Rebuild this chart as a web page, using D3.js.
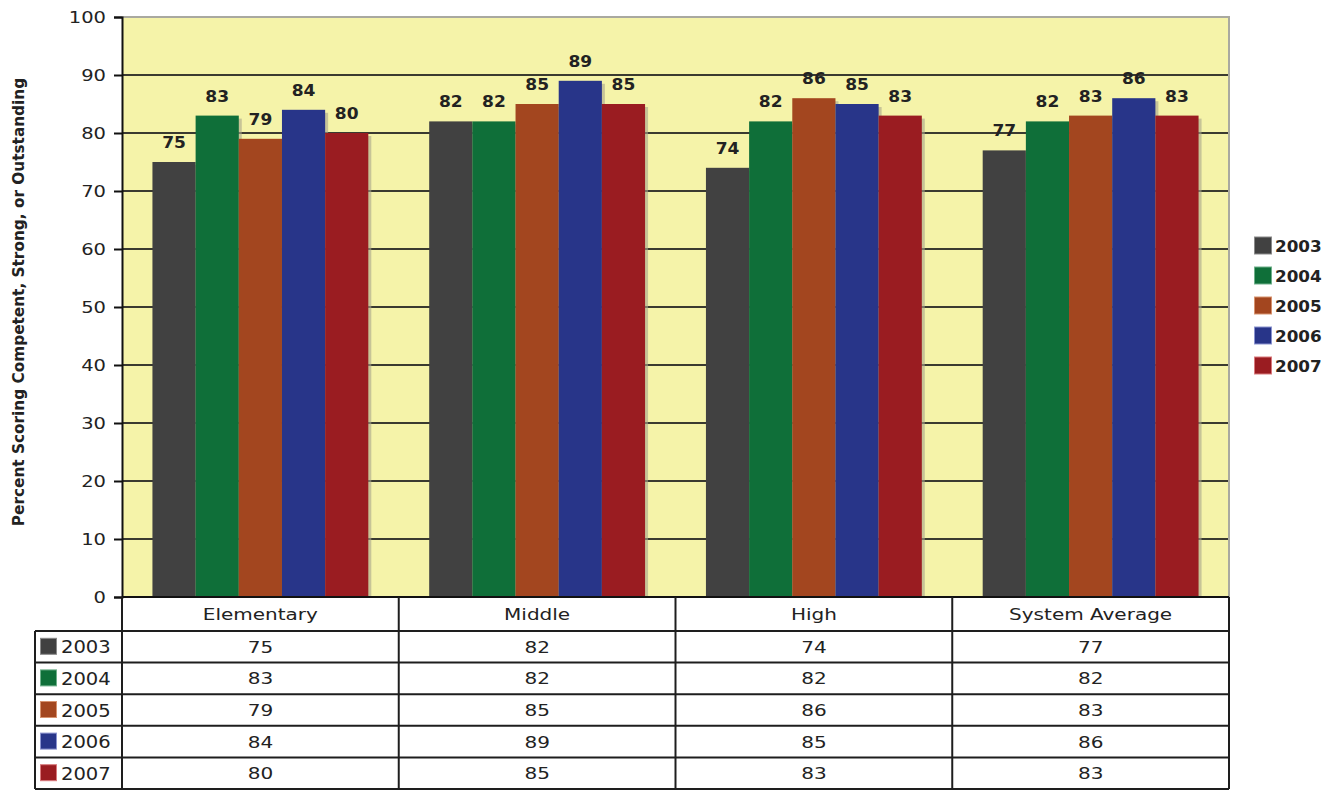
<!DOCTYPE html>
<html>
<head>
<meta charset="utf-8">
<script src="https://cdn.jsdelivr.net/npm/d3@7"></script>
<style>
  html, body { margin: 0; padding: 0; background: #fff; }
  svg { display: block; }
  text { font-family: "DejaVu Sans", Verdana, sans-serif; fill: #222; }
</style>
</head>
<body>
<svg id="chart" width="1331" height="791"></svg>
<script>
// School levels and survey years
const categories = ["Elementary", "Middle", "High", "System Average"];
const years = ["2003", "2004", "2005", "2006", "2007"];

// Percent scoring competent, strong, or outstanding, per year
const values2003 = [75, 82, 74, 77];
const values2004 = [83, 82, 82, 82];
const values2005 = [79, 85, 86, 83];
const values2006 = [84, 89, 85, 86];
const values2007 = [80, 85, 83, 83];

const yTicks = [0, 10, 20, 30, 40, 50, 60, 70, 80, 90, 100];
const yTitle = "Percent Scoring Competent, Strong, or Outstanding";

const seriesValues = [values2003, values2004, values2005, values2006, values2007];
const colors = ["#414141", "#0f6f39", "#a3461f", "#283589", "#9a1c21"];
const swatchStroke = ["#8a8a8a", "#6fb08a", "#d7936f", "#8a93cf", "#d97a7d"];

const svg = d3.select("#chart");

const plot = { left: 122, right: 1229, top: 17, bottom: 597 };
const table = { left: 35, headerBottom: 631, bottom: 789 };

const x0 = d3.scaleBand()
  .domain(categories)
  .range([plot.left, plot.right])
  .paddingInner(0.22)
  .paddingOuter(0.11);

const x1 = d3.scaleBand()
  .domain(years)
  .range([0, x0.bandwidth()]);

const y = d3.scaleLinear().domain([0, 100]).range([plot.bottom, plot.top]);

const color = d3.scaleOrdinal().domain(years).range(colors);

// Draws text widened horizontally, like the original export
function wideText(sel, x, yPos, str, opts) {
  const sx = opts.sx || 1;
  return sel.append("text")
    .attr("transform", `translate(${x},${yPos}) scale(${sx},1)`)
    .attr("text-anchor", opts.anchor || "middle")
    .attr("font-size", opts.size)
    .attr("font-weight", opts.weight || "normal")
    .text(str);
}

// Plot background
svg.append("rect")
  .attr("x", plot.left).attr("y", plot.top)
  .attr("width", plot.right - plot.left).attr("height", plot.bottom - plot.top)
  .attr("fill", "#f5f3a9");

// Gridlines
svg.append("g")
  .selectAll("line")
  .data(yTicks.filter(t => t > 0 && t < 100))
  .join("line")
  .attr("x1", plot.left).attr("x2", plot.right)
  .attr("y1", d => y(d)).attr("y2", d => y(d))
  .attr("stroke", "#3a3a30").attr("stroke-width", 2);

// Top and right frame
svg.append("path")
  .attr("d", `M${plot.left},${y(100)}H${plot.right}V${plot.bottom}`)
  .attr("fill", "none").attr("stroke", "#a9a9a0").attr("stroke-width", 2);

// Bars
const rows = years.map((yr, i) => categories.map((c, j) => ({ year: yr, cat: c, value: seriesValues[i][j] })));
const barData = rows.flat();

const groups = svg.append("g");
// shadows
groups.selectAll("rect.shadow")
  .data(barData)
  .join("rect")
  .attr("class", "shadow")
  .attr("x", d => x0(d.cat) + x1(d.year) + 3)
  .attr("y", d => y(d.value) + 3)
  .attr("width", x1.bandwidth())
  .attr("height", d => y(0) - y(d.value) - 3)
  .attr("fill", "#a8a58c").attr("opacity", 0.6);

groups.selectAll("rect.bar")
  .data(barData)
  .join("rect")
  .attr("class", "bar")
  .attr("x", d => x0(d.cat) + x1(d.year))
  .attr("y", d => y(d.value))
  .attr("width", x1.bandwidth())
  .attr("height", d => y(0) - y(d.value))
  .attr("fill", d => color(d.year));

// Value labels
const labels = svg.append("g");
barData.forEach(d => {
  wideText(labels, x0(d.cat) + x1(d.year) + x1.bandwidth() / 2, y(d.value) - 14, String(d.value),
    { size: 15.5, weight: "bold", sx: 1.1 });
});

// Y axis
const yAxis = d3.axisLeft(y).tickValues(yTicks).tickSize(8).tickFormat("");
const yg = svg.append("g")
  .attr("transform", `translate(${plot.left},0)`)
  .call(yAxis);
yg.select(".domain").attr("stroke", "#111").attr("stroke-width", 2);
yg.selectAll(".tick line").attr("stroke", "#111").attr("stroke-width", 2);
yTicks.forEach(t => {
  wideText(svg, plot.left - 16, y(t) + 5.5, String(t), { size: 15, anchor: "end", sx: 1.3 });
});

// Y axis title
svg.append("text")
  .attr("transform", `translate(24,302) rotate(-90)`)
  .attr("text-anchor", "middle")
  .attr("font-size", 15.3)
  .attr("font-weight", "bold")
  .text(yTitle);

// X axis baseline
svg.append("line")
  .attr("x1", plot.left).attr("x2", plot.right)
  .attr("y1", y(0)).attr("y2", y(0))
  .attr("stroke", "#111").attr("stroke-width", 2);

// Data table
const step = x0.step();
const colEdges = categories.map((c, i) => plot.left + i * step).concat([plot.right]);
const rowH = (table.bottom - table.headerBottom) / years.length;
const rowY = i => table.headerBottom + i * rowH;
const tg = svg.append("g").attr("stroke", "#1e1e1e").attr("stroke-width", 2);

// header cells
colEdges.forEach(xe => {
  tg.append("line").attr("x1", xe).attr("x2", xe).attr("y1", plot.bottom).attr("y2", table.bottom);
});
tg.append("line").attr("x1", table.left).attr("x2", table.left).attr("y1", table.headerBottom).attr("y2", table.bottom);
for (let i = 0; i <= years.length; i++) {
  tg.append("line").attr("x1", table.left).attr("x2", plot.right).attr("y1", rowY(i)).attr("y2", rowY(i));
}

categories.forEach((c, j) => {
  const cx = x0(c) + x0.bandwidth() / 2;
  wideText(svg, cx, (plot.bottom + table.headerBottom) / 2 + 6, c, { size: 16, sx: 1.25 });
  years.forEach((yr, i) => {
    wideText(svg, cx, rowY(i) + rowH / 2 + 6, String(seriesValues[i][j]), { size: 16, sx: 1.25 });
  });
});

years.forEach((yr, i) => {
  const cy = rowY(i) + rowH / 2;
  svg.append("rect")
    .attr("x", 40.5).attr("y", cy - 8.5)
    .attr("width", 16).attr("height", 16)
    .attr("fill", colors[i]).attr("stroke", swatchStroke[i]).attr("stroke-width", 1);
  wideText(svg, 61, cy + 6.5, yr, { size: 17, anchor: "start", sx: 1.15 });
});

// Legend
const legendTop = 245.5;
years.forEach((yr, i) => {
  const cy = legendTop + i * 30;
  svg.append("rect")
    .attr("x", 1254.5).attr("y", cy - 8.5)
    .attr("width", 17).attr("height", 17)
    .attr("fill", colors[i]).attr("stroke", swatchStroke[i]).attr("stroke-width", 1);
  wideText(svg, 1275, cy + 6, yr, { size: 15, anchor: "start", weight: "bold", sx: 1.12 });
});
</script>
</body>
</html>
